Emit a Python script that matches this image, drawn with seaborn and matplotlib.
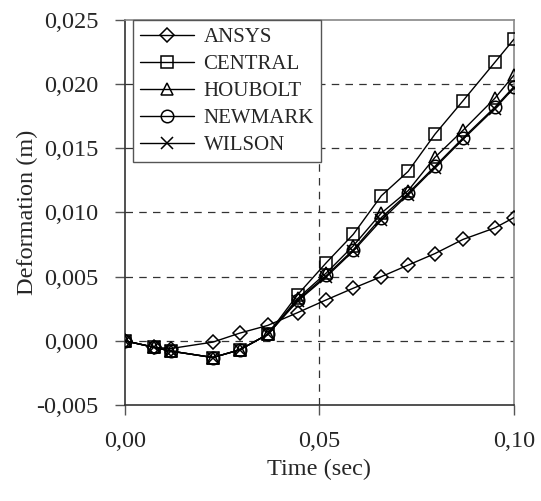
import matplotlib
matplotlib.use("Agg")
import matplotlib.pyplot as plt
import seaborn as sns
import pandas as pd

# ---- data ----
time = [0.0, 0.0074, 0.0118, 0.0226, 0.0295, 0.0367, 0.0444, 0.0518,
        0.0587, 0.0659, 0.0728, 0.0797, 0.0869, 0.0951, 0.1]
ansys = [0.0, -0.0005, -0.0006, -0.0001, 0.0006, 0.0012, 0.0022, 0.0032,
         0.0041, 0.0050, 0.0059, 0.0068, 0.0079, 0.0088, 0.0096]
central = [0.0, -0.0005, -0.0008, -0.0013, -0.0007, 0.0005, 0.0036, 0.0061,
           0.0083, 0.0113, 0.0132, 0.0161, 0.0187, 0.0217, 0.0235]
houbolt = [0.0, -0.0005, -0.0008, -0.0013, -0.0007, 0.0005, 0.0033, 0.0053,
           0.0074, 0.00995, 0.0117, 0.0143, 0.0164, 0.0189, 0.0207]
newmark = [0.0, -0.0005, -0.0008, -0.0013, -0.0007, 0.0005, 0.0032, 0.0051,
           0.0071, 0.0096, 0.0115, 0.0136, 0.0158, 0.0182, 0.0198]
wilson = [0.0, -0.0005, -0.0008, -0.0013, -0.0007, 0.0005, 0.0031, 0.0050,
          0.0070, 0.0094, 0.0114, 0.0135, 0.0157, 0.0181, 0.0197]
series_names = ["ANSYS", "CENTRAL", "HOUBOLT", "NEWMARK", "WILSON"]
series_values = [ansys, central, houbolt, newmark, wilson]
x_ticks = [0.0, 0.05, 0.10]
x_tick_labels = ["0,00", "0,05", "0,10"]
y_ticks = [-0.005, 0.0, 0.005, 0.010, 0.015, 0.020, 0.025]
y_tick_labels = ["-0,005", "0,000", "0,005", "0,010", "0,015", "0,020", "0,025"]

# ---- style ----
sns.set_style("ticks")
plt.rcParams["font.family"] = ["Liberation Serif", "DejaVu Serif"]

markers = {"ANSYS": "D", "CENTRAL": "s", "HOUBOLT": "^", "NEWMARK": "o", "WILSON": "x"}
msizes = {"ANSYS": 7, "CENTRAL": 9, "HOUBOLT": 9, "NEWMARK": 9, "WILSON": 9}

fig = plt.figure(figsize=(5.41, 5.01), dpi=100)
ax = fig.add_axes([0.231, 0.1916, 0.719, 0.7686])

for name, vals in zip(series_names, series_values):
    df = pd.DataFrame({"Time": time, "Deformation": vals})
    sns.lineplot(data=df, x="Time", y="Deformation", ax=ax, color="black",
                 linewidth=1.0, marker=markers[name], markersize=msizes[name],
                 markerfacecolor="none", markeredgecolor="black",
                 markeredgewidth=1.1, label=name, zorder=3)

ax.set_xlim(0.0, 0.10)
ax.set_ylim(-0.005, 0.025)
ax.set_xticks(x_ticks)
ax.set_xticklabels(x_tick_labels)
ax.set_yticks(y_ticks)
ax.set_yticklabels(y_tick_labels)
ax.tick_params(axis="both", direction="out", length=7, width=1,
               labelsize=17.5, color="#555555")
ax.tick_params(axis="x", pad=12)
ax.tick_params(axis="y", pad=12)

# grid: dashed horizontal lines and vertical line at 0.05
for yv in y_ticks[1:-1]:
    ax.axhline(yv, color="#333333", linestyle=(0, (6, 5)), linewidth=0.9, zorder=1)
ax.axvline(0.05, color="#333333", linestyle=(0, (6, 5)), linewidth=0.9, zorder=1)

for side in ["top", "right"]:
    ax.spines[side].set_visible(True)
    ax.spines[side].set_color("#888888")
    ax.spines[side].set_linewidth(1.2)
for side in ["left", "bottom"]:
    ax.spines[side].set_color("#333333")
    ax.spines[side].set_linewidth(1.2)

ax.set_xlabel("Time (sec)", fontsize=17.5, labelpad=5)
ax.set_ylabel("Deformation (m)", fontsize=17.5, labelpad=-1)

leg = ax.legend(loc="upper left", bbox_to_anchor=(0.02, 1.0), frameon=True,
                fancybox=False, fontsize=15, handlelength=2.6, handletextpad=0.45,
                borderpad=0.35, labelspacing=0.36, borderaxespad=0.0)
leg.get_frame().set_edgecolor("#555555")
leg.get_frame().set_linewidth(1.0)
leg.get_frame().set_alpha(1.0)

fig.savefig("out.png", dpi=100)
